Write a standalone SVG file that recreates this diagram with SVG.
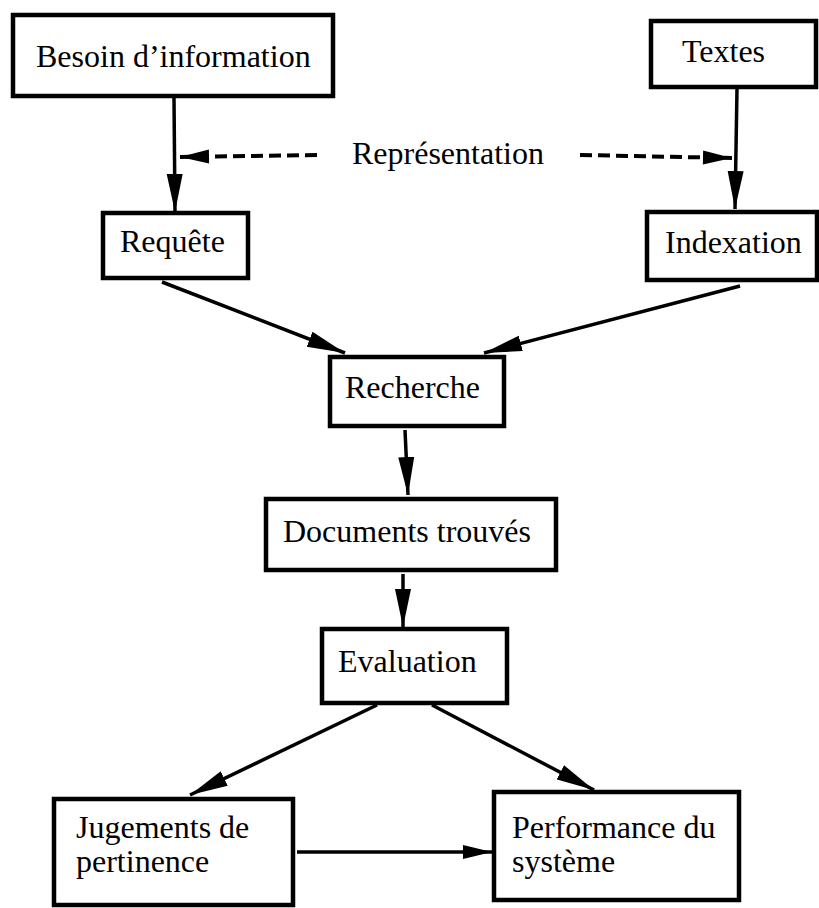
<svg xmlns="http://www.w3.org/2000/svg" width="819" height="908" viewBox="0 0 819 908">
  <style>
    .box { fill: #ffffff; stroke: #000000; stroke-width: 4.5; }
    .lbl { font-family: "Liberation Serif", "Times New Roman", serif; font-size: 32px; fill: #000000; }
    .edge { fill: none; stroke: #000000; stroke-width: 3.5; }
    .dash { fill: none; stroke: #000000; stroke-width: 4; stroke-dasharray: 12 6; }
  </style>
  <defs>
    <marker id="head" markerUnits="userSpaceOnUse" markerWidth="40" markerHeight="18" viewBox="-38 -9 40 18" refX="0" refY="0" orient="auto">
      <path d="M0,0 L-38,-8 L-38,8 Z" fill="#000000"/>
    </marker>
    <marker id="head-short" markerUnits="userSpaceOnUse" markerWidth="32" markerHeight="16" viewBox="-30 -8 32 16" refX="0" refY="0" orient="auto">
      <path d="M0,0 L-29,-7 L-29,7 Z" fill="#000000"/>
    </marker>
  </defs>

  <rect width="819" height="908" fill="#ffffff"/>

  <!-- connectors -->
  <g id="connectors">
    <line class="edge" x1="174" y1="98" x2="175" y2="212" marker-end="url(#head)"/>
    <line class="edge" x1="737" y1="89" x2="735" y2="209" marker-end="url(#head)"/>
    <line class="dash" x1="317" y1="155" x2="180" y2="157" marker-end="url(#head-short)"/>
    <line class="dash" x1="580" y1="155" x2="732" y2="158" marker-end="url(#head-short)"/>
    <line class="edge" x1="162" y1="282" x2="345" y2="353" marker-end="url(#head)"/>
    <line class="edge" x1="740" y1="286" x2="484" y2="353" marker-end="url(#head)"/>
    <line class="edge" x1="405" y1="430" x2="408" y2="495" marker-end="url(#head)"/>
    <line class="edge" x1="403" y1="574" x2="403" y2="627" marker-end="url(#head)"/>
    <line class="edge" x1="377" y1="705" x2="190" y2="795" marker-end="url(#head)"/>
    <line class="edge" x1="432" y1="705" x2="594" y2="790" marker-end="url(#head)"/>
    <line class="edge" x1="297" y1="852" x2="492" y2="852" marker-end="url(#head-short)"/>
  </g>

  <!-- label on the dashed pair -->
  <text class="lbl" x="352" y="164">Représentation</text>

  <g id="besoin">
    <rect class="box" x="13" y="15" width="320" height="81"/>
    <text class="lbl" x="36" y="67">Besoin d’information</text>
  </g>

  <g id="textes">
    <rect class="box" x="651" y="21" width="165" height="66"/>
    <text class="lbl" x="682" y="62">Textes</text>
  </g>

  <g id="requete">
    <rect class="box" x="103" y="213" width="145" height="65"/>
    <text class="lbl" x="120" y="252">Requête</text>
  </g>

  <g id="indexation">
    <rect class="box" x="647" y="212" width="170" height="68"/>
    <text class="lbl" x="665" y="253">Indexation</text>
  </g>

  <g id="recherche">
    <rect class="box" x="330" y="357" width="174" height="69"/>
    <text class="lbl" x="345" y="398">Recherche</text>
  </g>

  <g id="documents">
    <rect class="box" x="266" y="499" width="290" height="71"/>
    <text class="lbl" x="283" y="542">Documents trouvés</text>
  </g>

  <g id="evaluation">
    <rect class="box" x="322" y="629" width="185" height="74"/>
    <text class="lbl" x="338" y="672">Evaluation</text>
  </g>

  <g id="jugements">
    <rect class="box" x="54" y="799" width="239" height="106"/>
    <text class="lbl" x="76" y="838">Jugements de</text>
    <text class="lbl" x="76" y="872">pertinence</text>
  </g>

  <g id="performance">
    <rect class="box" x="494" y="792" width="245" height="108"/>
    <text class="lbl" x="512" y="838">Performance du</text>
    <text class="lbl" x="512" y="872">système</text>
  </g>
</svg>
